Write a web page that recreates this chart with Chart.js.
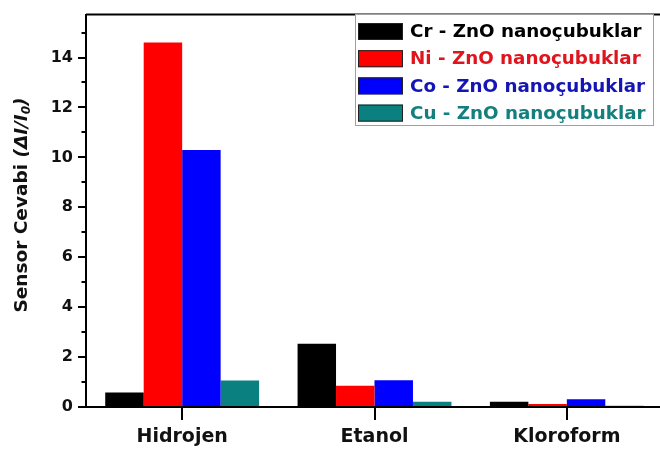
<!DOCTYPE html>
<html>
<head>
<meta charset="utf-8">
<script src="https://cdn.jsdelivr.net/npm/chart.js@4.4.1/dist/chart.umd.min.js"></script>
<style>
  html, body { margin: 0; padding: 0; background: #fff; overflow: hidden; width: 660px; height: 453px; }
  canvas { display: block; }
</style>
</head>
<body>
<canvas id="chart" width="663" height="453"></canvas>
<script>
// Gas categories and sensor response (ΔI/I0) for each doped ZnO nanorod sample
const gases = ['Hidrojen', 'Etanol', 'Kloroform'];
const seriesNames = ['Cr - ZnO nanoçubuklar', 'Ni - ZnO nanoçubuklar', 'Co - ZnO nanoçubuklar', 'Cu - ZnO nanoçubuklar'];
const crValues = [0.58, 2.53, 0.21];
const niValues = [14.6, 0.85, 0.12];
const coValues = [10.3, 1.07, 0.31];
const cuValues = [1.06, 0.21, 0.05];
const yMajorTicks = [0, 2, 4, 6, 8, 10, 12, 14];
const yMinorTicks = [1, 3, 5, 7, 9, 11, 13, 15];

const barColors = ['#000000', '#ff0000', '#0000ff', '#0b8080'];
const legendTextColors = ['#000000', '#e0141c', '#1515b5', '#13807e'];
const FONT = "'DejaVu Sans', sans-serif";

const seriesValues = [crValues, niValues, coValues, cuValues];

// Frame line along the top of the plot area
const framePlugin = {
  id: 'frame',
  afterDraw(chart) {
    const { ctx, chartArea: a } = chart;
    ctx.save();
    ctx.strokeStyle = '#000';
    ctx.lineWidth = 2;
    ctx.beginPath();
    ctx.moveTo(a.left, a.top);
    ctx.lineTo(a.right, a.top);
    ctx.lineTo(a.right, a.bottom);
    ctx.stroke();
    ctx.restore();
  }
};

// Short minor ticks between the labelled y values
const minorTickPlugin = {
  id: 'minorTicks',
  afterDraw(chart) {
    const { ctx } = chart;
    const y = chart.scales.y;
    const x0 = chart.chartArea.left;
    ctx.save();
    ctx.strokeStyle = '#000';
    ctx.lineWidth = 2;
    yMinorTicks.forEach(v => {
      if (v > y.max) return;
      const py = Math.round(y.getPixelForValue(v));
      ctx.beginPath();
      ctx.moveTo(x0 - 4.5, py);
      ctx.lineTo(x0, py);
      ctx.stroke();
    });
    ctx.restore();
  }
};

// Rotated y-axis title with italic (ΔI/I0) part and subscript
const yTitlePlugin = {
  id: 'yTitle',
  afterDraw(chart) {
    const { ctx } = chart;
    const parts = [
      { t: 'Sensor Cevabi ', f: `bold 18.5px ${FONT}`, dy: 0 },
      { t: '(ΔI/I', f: `italic bold 18.5px ${FONT}`, dy: 0 },
      { t: '0', f: `italic bold 12px ${FONT}`, dy: 5 },
      { t: ')', f: `italic bold 18.5px ${FONT}`, dy: 0 }
    ];
    ctx.save();
    let total = 0;
    parts.forEach(p => { ctx.font = p.f; p.w = ctx.measureText(p.t).width; total += p.w; });
    ctx.translate(22, 205);
    ctx.rotate(-Math.PI / 2);
    ctx.fillStyle = '#111';
    ctx.textBaseline = 'middle';
    let x = -total / 2;
    parts.forEach(p => {
      ctx.font = p.f;
      ctx.fillText(p.t, x, p.dy);
      x += p.w;
    });
    ctx.restore();
  }
};

// Boxed legend in the upper-right of the plot
const boxLegendPlugin = {
  id: 'boxLegend',
  afterDraw(chart) {
    const { ctx } = chart;
    const left = 355, top = 14, width = 298, height = 111;
    ctx.save();
    ctx.fillStyle = '#fff';
    ctx.fillRect(left, top, width, height);
    ctx.strokeStyle = '#a0a0a0';
    ctx.lineWidth = 1;
    ctx.strokeRect(left + 0.5, top + 0.5, width, height);
    ctx.font = `bold 18.3px ${FONT}`;
    ctx.textBaseline = 'middle';
    chart.data.datasets.forEach((ds, i) => {
      const cy = 31.5 + i * 27.2;
      ctx.fillStyle = ds.backgroundColor;
      ctx.fillRect(358, cy - 8.5, 45, 17);
      ctx.strokeStyle = '#222';
      ctx.strokeRect(358.5, cy - 8, 44, 16);
      ctx.fillStyle = ds.legendTextColor;
      ctx.fillText(ds.label, 410, cy + 1);
    });
    ctx.restore();
  }
};

new Chart(document.getElementById('chart'), {
  type: 'bar',
  data: {
    labels: gases,
    datasets: seriesNames.map((name, i) => ({
      label: name,
      data: seriesValues[i],
      backgroundColor: barColors[i],
      legendTextColor: legendTextColors[i],
      borderWidth: 0,
      categoryPercentage: 0.8,
      barPercentage: 1.0
    }))
  },
  options: {
    responsive: false,
    devicePixelRatio: 1,
    animation: false,
    layout: { padding: { top: 11, right: 0, bottom: 0, left: 0 } },
    plugins: { legend: { display: false }, tooltip: { enabled: false } },
    scales: {
      x: {
        afterFit(s) { s.height = 46; },
        grid: { display: true, drawOnChartArea: false, offset: false, tickLength: 13, color: '#000', lineWidth: 2 },
        border: { display: true, color: '#000', width: 2 },
        ticks: { color: '#111', font: { family: FONT, size: 19, weight: 'bold' }, padding: 6, maxRotation: 0 }
      },
      y: {
        min: 0,
        max: 15.72,
        afterFit(s) { s.width = 86; },
        afterBuildTicks(s) { s.ticks = yMajorTicks.map(v => ({ value: v })); },
        grid: { display: true, drawOnChartArea: false, tickLength: 8, color: '#000', lineWidth: 2 },
        border: { display: true, color: '#000', width: 2 },
        ticks: { color: '#111', font: { family: FONT, size: 16, weight: 'bold' }, padding: 5 }
      }
    }
  },
  plugins: [framePlugin, minorTickPlugin, yTitlePlugin, boxLegendPlugin]
});
</script>
</body>
</html>
